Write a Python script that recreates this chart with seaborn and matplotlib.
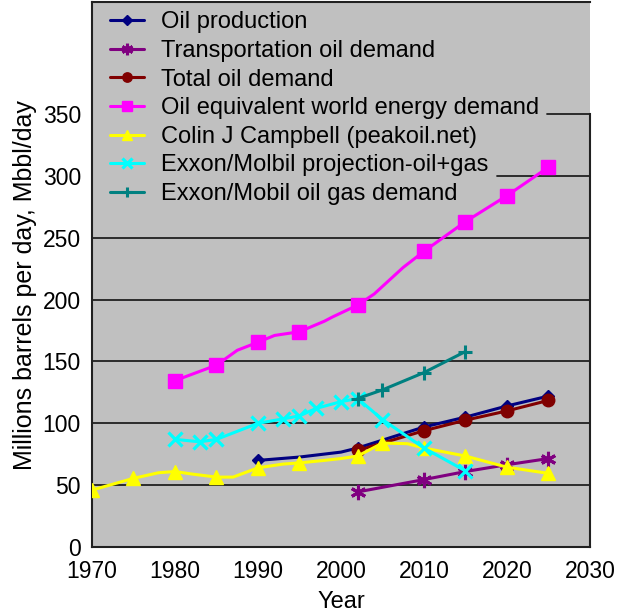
import numpy as np
import matplotlib.pyplot as plt
import pandas as pd
import seaborn as sns
from matplotlib.lines import Line2D

# Werte (Jahr, Mbbl/day)
prod_years = [1990, 1995, 2000, 2002, 2010, 2015, 2020, 2025]
prod_vals = [70, 72.7, 76.7, 80, 97, 105, 114, 122]
prod_marks = [1990, 2002, 2010, 2015, 2020, 2025]

transport_years = [2002, 2010, 2015, 2020, 2025]
transport_vals = [44.5, 54.5, 61, 66.5, 71.5]

total_years = [2002, 2010, 2015, 2020, 2025]
total_vals = [78, 94, 102.5, 110, 118.5]

energy_years = [1980, 1985, 1987.5, 1990, 1992, 1995, 1998, 1999, 2002,
                2004, 2007.5, 2010, 2015, 2020, 2025]
energy_vals = [134.5, 147, 159, 165.5, 171, 174, 182.5, 186, 195.5,
               204.5, 226, 239, 263, 284, 307]
energy_marks = [1980, 1985, 1990, 1995, 2002, 2010, 2015, 2020, 2025]

campbell_years = [1970, 1975, 1978, 1980, 1982, 1985, 1987, 1990, 1993,
                  1995, 1998, 2000, 2002, 2005, 2008, 2010, 2015, 2020, 2025]
campbell_vals = [46, 55.5, 60, 61, 59, 56.5, 56.5, 64, 67,
                 68, 70, 71.5, 73.5, 84, 83.5, 80, 73.5, 64.5, 59.5]
campbell_marks = [1970, 1975, 1980, 1985, 1990, 1995, 2002, 2005, 2010,
                  2015, 2020, 2025]

exxon_proj_years = [1980, 1983, 1985, 1990, 1993, 1995, 1997, 2000, 2002,
                    2005, 2010, 2015]
exxon_proj_vals = [87, 85, 87, 100, 103.5, 106, 112, 117.5, 120,
                   103, 80, 61.5]

exxon_dem_years = [2002, 2005, 2010, 2015]
exxon_dem_vals = [120, 127, 141, 158]

labels = ['Oil production', 'Transportation oil demand', 'Total oil demand',
          'Oil equivalent world energy demand', 'Colin J Campbell (peakoil.net)',
          'Exxon/Molbil projection-oil+gas', 'Exxon/Mobil oil gas demand']

y_ticks = [0, 50, 100, 150, 200, 250, 300, 350]
x_ticks = [1970, 1980, 1990, 2000, 2010, 2020, 2030]

sns.set_style('white')
plt.rcParams['font.family'] = ['Liberation Sans', 'DejaVu Sans']
plt.rcParams['text.color'] = 'black'
plt.rcParams['axes.labelcolor'] = 'black'

reihen = [
    (prod_years, prod_vals, prod_marks, '#000080', 'D', 6.5, 1.0),
    (transport_years, transport_vals, None, '#800080', (6, 2, 0), 11, 2.2),
    (total_years, total_vals, None, '#800000', 'o', 9, 1.0),
    (energy_years, energy_vals, energy_marks, '#FF00FF', 's', 10, 1.0),
    (campbell_years, campbell_vals, campbell_marks, '#FFFF00', '^', 10, 1.0),
    (exxon_proj_years, exxon_proj_vals, None, '#00FFFF', 'x', 9.5, 2.3),
    (exxon_dem_years, exxon_dem_vals, None, '#008080', '+', 10, 2.2),
]

fig = plt.figure(figsize=(6.24, 6.15), dpi=100)
ax = fig.add_axes([92 / 624, 1 - 547 / 615, 498 / 624, 545 / 615])
ax.set_facecolor('#C0C0C0')

handles = []
for (jahre, werte, marks, kleur, mk, ms, mew), label in zip(reihen, labels):
    if marks is None:
        every = None
    else:
        every = [i for i, j in enumerate(jahre) if j in marks]
    sns.lineplot(x=jahre, y=werte, ax=ax, color=kleur, marker=mk,
                 markersize=ms, markeredgewidth=mew, markeredgecolor=kleur,
                 markevery=every, linewidth=2.2, estimator=None, sort=False,
                 zorder=3)
    handles.append(Line2D([], [], color=kleur, marker=mk, lw=2.2,
                          markersize=ms * 0.75, markeredgewidth=mew,
                          markeredgecolor=kleur, label=label))

ax.set_xlim(1970, 2030)
ax.set_ylim(0, 440.5)
ax.set_xticks(x_ticks)
ax.set_yticks(y_ticks)
ax.grid(False)
ax.tick_params(direction='inout', length=10, width=1.2, labelsize=16.5,
               colors='black')
ax.tick_params(axis='y', pad=3)
ax.tick_params(axis='x', pad=4)
for s in ax.spines.values():
    s.set_color('#202020')
    s.set_linewidth(1.5)
ax.spines['right'].set_bounds(0, 350)

ax.set_xlabel('Year', fontsize=17, labelpad=6)
ax.set_ylabel('Millions barrels per day, Mbbl/day', fontsize=18)
ax.yaxis.set_label_coords(-0.11, 0.481)

leg = ax.legend(handles=handles, loc='upper left',
                bbox_to_anchor=(0.017, 1), borderaxespad=0, fontsize=17,
                frameon=False, handlelength=1.45, handletextpad=0.72,
                labelspacing=0.28, borderpad=0.4)

# Gitterlinien: unter der Legende erst rechts vom Text beginnen lassen
fig.canvas.draw()
renderer = fig.canvas.get_renderer()
lbox = leg.get_window_extent(renderer)
text_boxes = [t.get_window_extent(renderer) for t in leg.get_texts()]
inv = ax.transData.inverted()
for yv in y_ticks[1:]:
    ydisp = ax.transData.transform((1970, yv))[1]
    x_start = ax.transAxes.transform((0, 0))[0]
    if lbox.y0 <= ydisp <= lbox.y1:
        hits = [tb.x1 for tb in text_boxes if tb.y0 - 5 <= ydisp <= tb.y1 + 5]
        x_start = (max(hits) if hits else lbox.x1) + 8
    x0 = inv.transform((x_start, ydisp))[0]
    ax.plot([x0, 2030], [yv, yv], color='#202020', lw=1.3, zorder=1)

plt.savefig('out.png', dpi=100)
